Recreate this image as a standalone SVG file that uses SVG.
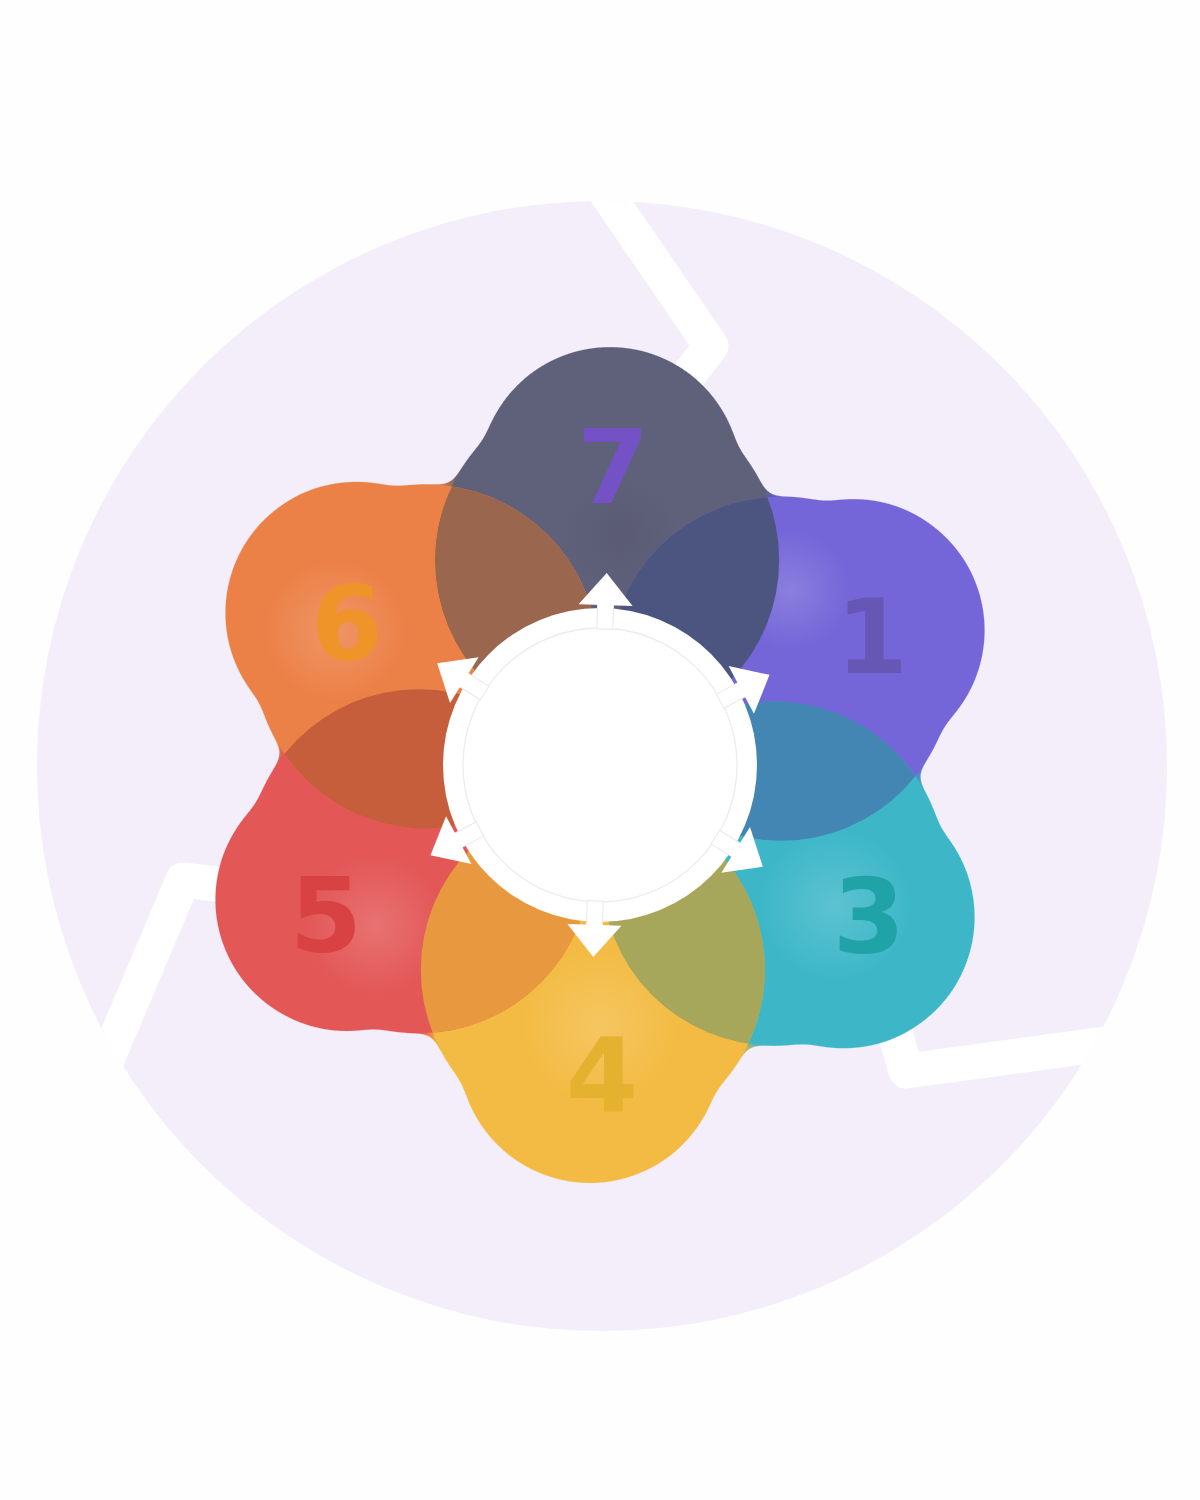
<svg xmlns="http://www.w3.org/2000/svg" width="1200" height="1500" viewBox="0 0 1200 1500">
<defs>
<style>
.num{font-family:"DejaVu Sans","Liberation Sans",sans-serif;font-weight:bold;font-size:104px;text-anchor:middle}
.band{fill:none;stroke:#ffffff;stroke-width:35;stroke-linejoin:round;stroke-linecap:butt}
.tri{fill:#ffffff}
.shaft{fill:#ffffff;stroke:#e9e9ec;stroke-width:1}
</style>
<filter id="goo" x="-10%" y="-10%" width="120%" height="120%" color-interpolation-filters="sRGB">
<feGaussianBlur in="SourceGraphic" stdDeviation="9" result="blur"/>
<feColorMatrix in="blur" type="matrix" values="1 0 0 0 0  0 1 0 0 0  0 0 1 0 0  0 0 0 20 -9" result="goo"/>
<feComposite in="SourceGraphic" in2="goo" operator="atop"/>
</filter>
<radialGradient id="glow"><stop offset="0" stop-color="#ffffff" stop-opacity="0.16"/><stop offset="1" stop-color="#ffffff" stop-opacity="0"/></radialGradient>
<radialGradient id="shade"><stop offset="0" stop-color="#3a3850" stop-opacity="0.14"/><stop offset="1" stop-color="#3a3850" stop-opacity="0"/></radialGradient>
<clipPath id="bigc"><circle cx="602" cy="766" r="565"/></clipPath>
<g id="s7"><circle cx="610" cy="478.2" r="131"/><circle cx="607.2" cy="560.1" r="172"/></g>
<g id="s1"><circle cx="853.4" cy="630.3" r="131"/><circle cx="781" cy="668.8" r="172"/></g>
<g id="s3"><circle cx="843.4" cy="917.1" r="131"/><circle cx="773.8" cy="873.6" r="172"/></g>
<g id="s4"><circle cx="590" cy="1051.8" r="131"/><circle cx="592.8" cy="969.9" r="172"/></g>
<g id="s5"><circle cx="346.6" cy="899.7" r="131"/><circle cx="419" cy="861.2" r="172"/></g>
<g id="s6"><circle cx="356.6" cy="612.9" r="131"/><circle cx="426.2" cy="656.4" r="172"/></g>
<clipPath id="cp7"><circle cx="610" cy="478.2" r="131"/><circle cx="607.2" cy="560.1" r="172"/></clipPath>
<clipPath id="cp1"><circle cx="853.4" cy="630.3" r="131"/><circle cx="781" cy="668.8" r="172"/></clipPath>
<clipPath id="cp3"><circle cx="843.4" cy="917.1" r="131"/><circle cx="773.8" cy="873.6" r="172"/></clipPath>
<clipPath id="cp4"><circle cx="590" cy="1051.8" r="131"/><circle cx="592.8" cy="969.9" r="172"/></clipPath>
<clipPath id="cp5"><circle cx="346.6" cy="899.7" r="131"/><circle cx="419" cy="861.2" r="172"/></clipPath>
<clipPath id="cp6"><circle cx="356.6" cy="612.9" r="131"/><circle cx="426.2" cy="656.4" r="172"/></clipPath>
</defs>

<rect x="0" y="0" width="1200" height="1500" fill="#fefefe"/>

<g id="background">
<circle cx="602" cy="766" r="565" fill="#f3eefa"/>
<g clip-path="url(#bigc)">
<polyline class="band" points="596,178 711,346 668,402"/>
<polyline class="band" points="92,1095 183,880 250,888"/>
<polyline class="band" points="1135,1040 906,1071 887,1005"/>
</g>
</g>

<g id="petals" filter="url(#goo)">
<g id="petal-7"><use href="#s7" fill="#5f6079"/><circle cx="620" cy="535" r="60" fill="url(#shade)"/></g>
<g id="petal-1"><use href="#s1" fill="#7466d8"/><circle cx="790" cy="590" r="60" fill="url(#glow)"/></g>
<g id="petal-3"><use href="#s3" fill="#3db7c8"/><circle cx="835" cy="905" r="75" fill="url(#glow)"/></g>
<g id="petal-4"><use href="#s4" fill="#f3bb43"/><circle cx="600" cy="1025" r="80" fill="url(#glow)"/></g>
<g id="petal-5"><use href="#s5" fill="#e35757"/><circle cx="375" cy="925" r="70" fill="url(#glow)"/></g>
<g id="petal-6"><use href="#s6" fill="#ec8148"/><circle cx="335" cy="630" r="70" fill="url(#glow)"/></g>
<g id="overlaps">
<g clip-path="url(#cp1)"><use href="#s7" fill="#4b5580"/></g>
<g clip-path="url(#cp3)"><use href="#s1" fill="#4385b3"/></g>
<g clip-path="url(#cp4)"><use href="#s3" fill="#a6a75b"/></g>
<g clip-path="url(#cp5)"><use href="#s4" fill="#e8993f"/></g>
<g clip-path="url(#cp6)"><use href="#s5" fill="#c65d3b"/></g>
<g clip-path="url(#cp7)"><use href="#s6" fill="#9a664e"/></g>
</g>
</g>

<g id="labels">
<text class="num" x="613" y="503" fill="#7452c6">7</text>
<text class="num" x="872" y="673" fill="#6657b5">1</text>
<text class="num" x="869" y="953" fill="#20a3a6">3</text>
<text class="num" x="602" y="1112" fill="#e4b22e">4</text>
<text class="num" x="326" y="952" fill="#d84242">5</text>
<text class="num" x="347" y="660" fill="#ee9429">6</text>
</g>

<g id="center">
<circle cx="600" cy="765" r="157" fill="#ffffff"/>
<circle cx="600" cy="765" r="137" fill="#ffffff" stroke="#ececef" stroke-width="1.3"/>
</g>

<g id="connectors">
<g transform="rotate(2 600 765)"><rect class="shaft" x="592" y="604" width="16" height="25"/><polygon class="tri" points="573,605 627,605 600,573"/></g>
<g transform="rotate(62 600 765)"><rect class="shaft" x="592" y="604" width="16" height="25"/><polygon class="tri" points="573,605 627,605 600,573"/></g>
<g transform="rotate(122 600 765)"><rect class="shaft" x="592" y="604" width="16" height="25"/><polygon class="tri" points="573,605 627,605 600,573"/></g>
<g transform="rotate(182 600 765)"><rect class="shaft" x="592" y="604" width="16" height="25"/><polygon class="tri" points="573,605 627,605 600,573"/></g>
<g transform="rotate(242 600 765)"><rect class="shaft" x="592" y="604" width="16" height="25"/><polygon class="tri" points="573,605 627,605 600,573"/></g>
<g transform="rotate(302 600 765)"><rect class="shaft" x="592" y="604" width="16" height="25"/><polygon class="tri" points="573,605 627,605 600,573"/></g>
</g>
</svg>
